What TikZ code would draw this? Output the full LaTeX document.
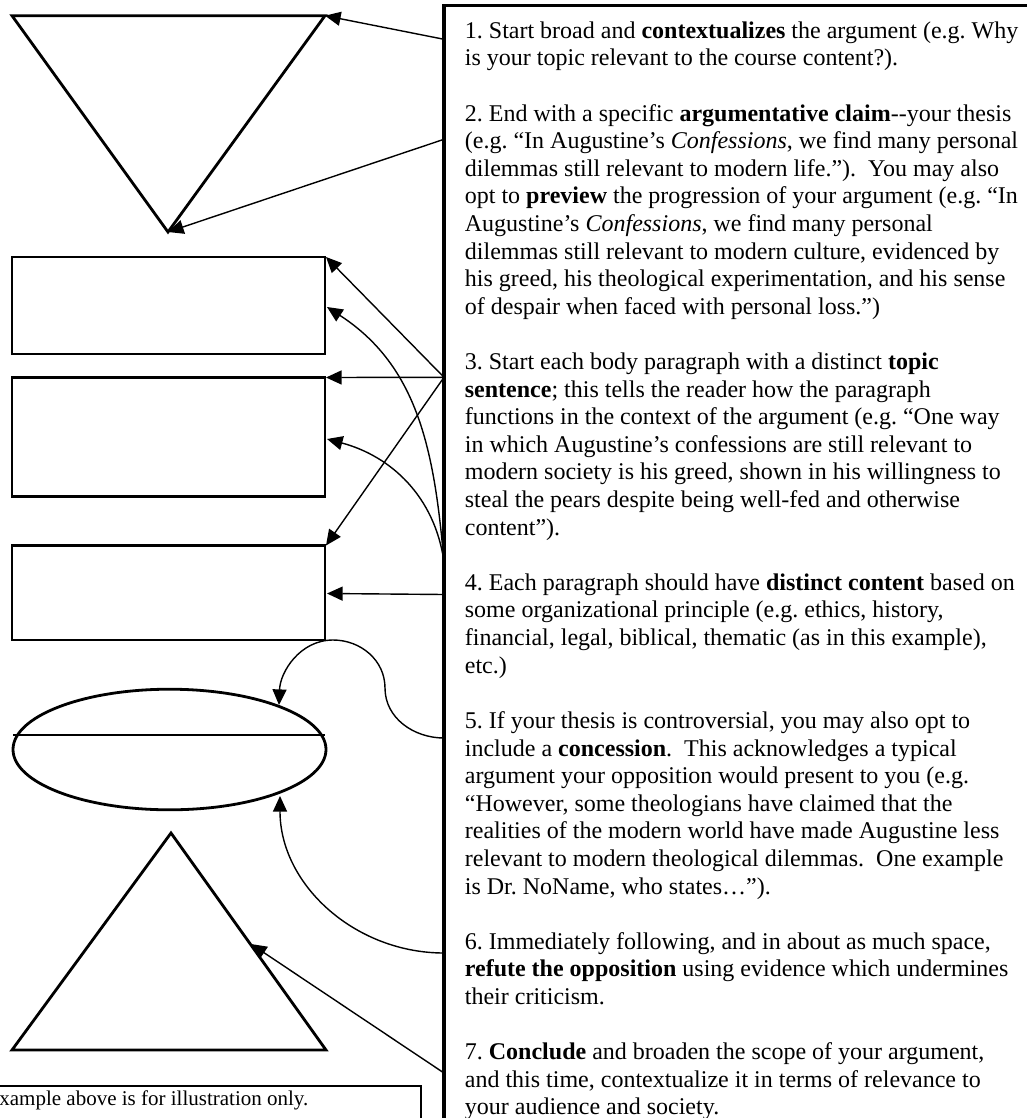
\documentclass[tikz,border=0pt]{standalone}
\usepackage{fontspec}
\setmainfont{Liberation Serif}
\usetikzlibrary{arrows.meta}
\begin{document}
\begin{tikzpicture}[x=0.5pt,y=-0.5pt,
  figline/.style={line width=1.4pt, line join=miter},
  frameline/.style={line width=1.55pt},
  noteline/.style={line width=0.8pt},
  conn/.style={line width=0.7pt, -{Triangle[length=7.8pt,width=7pt]}},
  bodytext/.style={anchor=base west, inner sep=0pt, font=\fontsize{12}{13.8}\selectfont},
  notetext/.style={anchor=base west, inner sep=0pt, font=\fontsize{10.5}{12.6}\selectfont}]
\useasboundingbox (0,0) rectangle (1027,1118);
\begin{scope}
\clip (0,0) rectangle (1027,1118);
% ---------- left figures ----------
\coordinate (T1a) at (12,15.7);
\coordinate (T1b) at (325,15.7);
\coordinate (T1c) at (168,232);
\draw[figline] (T1a) -- (T1b) -- (T1c) -- cycle;
\draw[figline] (12,257) rectangle (325,354);
\draw[figline] (12,377.5) rectangle (325,496.5);
\draw[figline] (12,545.5) rectangle (325,640);
\draw[figline] (169.5,749.5) ellipse [x radius=78.25pt, y radius=30.15pt];
\draw[figline] (13,735) -- (325,735);
\coordinate (T2a) at (171,833);
\coordinate (T2b) at (12,1050);
\coordinate (T2c) at (326,1050);
\draw[figline] (T2a) -- (T2b) -- (T2c) -- cycle;
% targets
\coordinate (R1tr) at (326,257);
\coordinate (R1r) at (327,307);
\coordinate (R2tr) at (326,377.5);
\coordinate (R2r) at (327,439);
\coordinate (R3tr) at (326,545.5);
\coordinate (R3r) at (327,593.5);
\coordinate (S1) at (385,688);
\coordinate (S2) at (333,640);
\coordinate (E1t) at (279,705);
\coordinate (E1b) at (280,796);
\coordinate (T2r) at (251,944);
% ---------- text frame ----------
\draw[frameline] (444,5.7) rectangle (1060,1160);
\coordinate (B1) at (444,39.3);
\coordinate (B2) at (444,139.3);
\coordinate (B3) at (444,377.3);
\coordinate (B4) at (444,562);
\coordinate (B5) at (444,594.5);
\coordinate (B6) at (444,738);
\coordinate (B7) at (444,953);
\coordinate (B8) at (444,1073);
% ---------- connectors ----------
\draw[conn] (B1) -- (T1b);
\draw[conn] (B2) -- (T1c);
\draw[conn] (B3) -- (R1tr);
\draw[conn] (B3) -- (R2tr);
\draw[conn] (B3) -- (R3tr);
\draw[conn] (B4) to[out=95,in=-33] (R1r);
\draw[conn] (B4) to[out=98,in=-15] (R2r);
\draw[conn] (B5) -- (R3r);
\draw[conn] (B6) to[out=180,in=-90] (S1) to[out=90,in=0] (S2) to[out=180,in=88] (E1t);
\draw[conn] (B7) to[out=180,in=-90] (E1b);
\draw[conn] (B8) -- (T2r);
% ---------- note box ----------
\draw[noteline] (-20,1086) rectangle (421,1160);
\node[notetext] (note) at (-1,1105) {xample above is for illustration only.};
% ---------- body text ----------
\node[bodytext] (txt) at (464.5,38.4) {\parbox[t]{290pt}{\fontsize{12}{13.8}\selectfont\setlength{\parindent}{0pt}\setlength{\parskip}{0pt}\raggedright\frenchspacing
1. Start broad and \textbf{contextualizes} the argument (e.g. Why\\
is your topic relevant to the course content?).\par\vspace{13.8pt}
2. End with a specific \textbf{argumentative claim}-\kern0pt-your thesis\\
(e.g. “In Augustine’s \textit{Confessions}, we find many personal\\
dilemmas still relevant to modern life.”).\ \ You may also\\
opt to \textbf{preview} the progression of your argument (e.g. “In\\
Augustine’s \textit{Confessions}, we find many personal\\
dilemmas still relevant to modern culture, evidenced by\\
his greed, his theological experimentation, and his sense\\
of despair when faced with personal loss.”)\par\vspace{13.8pt}
3. Start each body paragraph with a distinct \textbf{topic}\\
\textbf{sentence}; this tells the reader how the paragraph\\
functions in the context of the argument (e.g. “One way\\
in which Augustine’s confessions are still relevant to\\
modern society is his greed, shown in his willingness to\\
steal the pears despite being well-fed and otherwise\\
content”).\par\vspace{13.8pt}
4. Each paragraph should have \textbf{distinct content} based on\\
some organizational principle (e.g. ethics, history,\\
financial, legal, biblical, thematic (as in this example),\\
etc.)\par\vspace{13.8pt}
5. If your thesis is controversial, you may also opt to\\
include a \textbf{concession}.\ \ This acknowledges a typical\\
argument your opposition would present to you (e.g.\\
“However, some theologians have claimed that the\\
realities of the modern world have made Augustine less\\
relevant to modern theological dilemmas.\ \ One example\\
is Dr. NoName, who states…”).\par\vspace{13.8pt}
6. Immediately following, and in about as much space,\\
\textbf{refute the opposition} using evidence which undermines\\
their criticism.\par\vspace{13.8pt}
7. \textbf{Conclude} and broaden the scope of your argument,\\
and this time, contextualize it in terms of relevance to\\
your audience and society.\par}};
\end{scope}
\end{tikzpicture}
\end{document}
